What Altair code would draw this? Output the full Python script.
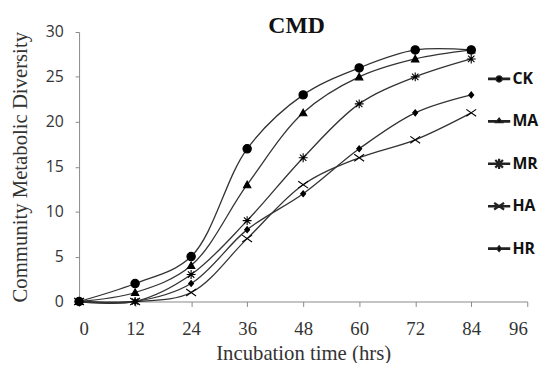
import altair as alt
import pandas as pd

hours = [0, 12, 24, 36, 48, 60, 72, 84]
series = ["CK", "MA", "MR", "HA", "HR"]
ck = [0, 2, 5, 17, 23, 26, 28, 28]
ma = [0, 1, 4, 13, 21, 25, 27, 28]
mr = [0, 0, 3, 9, 16, 22, 25, 27]
ha = [0, 0, 1, 7, 13, 16, 18, 21]
hr = [0, 0, 2, 8, 12, 17, 21, 23]
values = {"CK": ck, "MA": ma, "MR": mr, "HA": ha, "HR": hr}

rows = []
for s in series:
    for h, v in zip(hours, values[s]):
        rows.append({"series": s, "hours": h, "value": v})
df = pd.DataFrame(rows)

# marker shapes (unit paths)
marker_paths = [
    "M-0.85,0A0.85,0.85 0 1,0 0.85,0A0.85,0.85 0 1,0 -0.85,0Z",
    "M0,-0.75L0.75,0.6L-0.75,0.6Z",
    "M-0.9,0L0.9,0M0,-0.9L0,0.9M-0.65,-0.65L0.65,0.65M-0.65,0.65L0.65,-0.65",
    "M-1,-0.7L1,0.7M-1,0.7L1,-0.7",
    "M0,-0.6L0.5,0L0,0.6L-0.5,0Z",
]


def seg(x1, y1, x2, y2, w=0.055):
    dx, dy = x2 - x1, y2 - y1
    ln = (dx * dx + dy * dy) ** 0.5
    nx, ny = -dy / ln * w, dx / ln * w
    pts = [(x1 + nx, y1 + ny), (x2 + nx, y2 + ny), (x2 - nx, y2 - ny), (x1 - nx, y1 - ny)]
    return "M" + "L".join(f"{a:.3f},{b:.3f}" for a, b in pts) + "Z"


r = 0.29
t = 0.035
legend_paths = [
    seg(-1, 0, -r + 0.02, 0) + seg(r - 0.02, 0, 1, 0)
    + f"M{-r},0A{r},{r} 0 1,0 {r},0A{r},{r} 0 1,0 {-r},0Z",
    seg(-1, 0, -0.25, 0) + seg(0.25, 0, 1, 0) + "M0,-0.3L0.32,0.12L-0.32,0.12Z",
    seg(-1, 0, 1, 0, t + 0.01) + seg(0, -0.42, 0, 0.42, t) + seg(-0.32, -0.32, 0.32, 0.32, t)
    + seg(-0.32, 0.32, 0.32, -0.32, t),
    seg(-1, 0, 1, 0, t + 0.01) + seg(-0.42, -0.28, 0.42, 0.28, t)
    + seg(-0.42, 0.28, 0.42, -0.28, t),
    seg(-1, 0, -0.2, 0) + seg(0.2, 0, 1, 0) + "M0,-0.26L0.22,0L0,0.26L-0.22,0Z",
]

x_enc = alt.X(
    "hours:Q",
    scale=alt.Scale(domain=[0, 96], nice=False),
    axis=alt.Axis(
        values=[0, 12, 24, 36, 48, 60, 72, 84, 96],
        title="Incubation time (hrs)",
        grid=False,
        domainColor="#888888",
        tickColor="#888888",
        tickSize=5,
        labelFont="Liberation Serif",
        labelFontSize=19,
        labelColor="#333333",
        labelPadding=13,
        titleFont="Liberation Serif",
        titleFontSize=21,
        titleFontWeight="normal",
        titleColor="#333333",
        titlePadding=5,
    ),
)
y_enc = alt.Y(
    "value:Q",
    scale=alt.Scale(domain=[0, 30], nice=False),
    axis=alt.Axis(
        values=[0, 5, 10, 15, 20, 25, 30],
        title="Community Metabolic Diversity",
        grid=False,
        domainColor="#888888",
        tickColor="#888888",
        tickSize=4,
        labelFont="Open Sans",
        labelFontSize=16,
        labelColor="#333333",
        labelPadding=12,
        titleFont="Liberation Serif",
        titleFontSize=21,
        titleFontWeight="normal",
        titleColor="#333333",
        titlePadding=15,
    ),
)

lines = alt.Chart(df).mark_line(
    interpolate="catmull-rom", color="#333333", strokeWidth=1.3
).encode(x=x_enc, y=y_enc, detail="series:N")

points = alt.Chart(df).mark_point(
    fill="black", stroke="black", strokeWidth=1.1, opacity=1, size=100
).encode(
    x="hours:Q",
    y="value:Q",
    shape=alt.Shape(
        "series:N",
        scale=alt.Scale(domain=series, range=marker_paths),
        legend=None,
    ),
)

# legend-only layer: no data rows are drawn, the legend comes from the scale domain
legend_layer = alt.Chart(df).transform_filter(
    alt.datum.hours < 0
).mark_point(
    fill="black", stroke="#222222", strokeWidth=1.2, opacity=1, size=441
).encode(
    x="hours:Q",
    y="value:Q",
    shape=alt.Shape(
        "series:N",
        scale=alt.Scale(domain=series, range=legend_paths),
        legend=alt.Legend(
            title=None,
            orient="none",
            legendX=414,
            legendY=36,
            symbolSize=441,
            symbolFillColor="#111111",
            symbolOpacity=1,
            labelFont="Open Sans",
            labelFontSize=16,
            labelFontWeight="bold",
            labelColor="#111111",
            labelOffset=2,
            rowPadding=23,
            padding=0,
        ),
    ),
)

chart = (
    alt.layer(lines, points, legend_layer)
    .resolve_scale(shape="independent")
    .properties(
        width=454,
        height=273,
        autosize=alt.AutoSizeParams(type="none"),
        padding={"left": 72, "top": 22, "right": 20, "bottom": 60},
        title=alt.TitleParams(
            "CMD",
            font="Liberation Serif",
            fontSize=24,
            fontWeight="bold",
            color="#111111",
            anchor="start",
            dx=262,
            offset=-14,
        ),
    )
    .configure_view(stroke=None)
)

chart.save("out.html", embed_options={"renderer": "svg", "actions": False})
